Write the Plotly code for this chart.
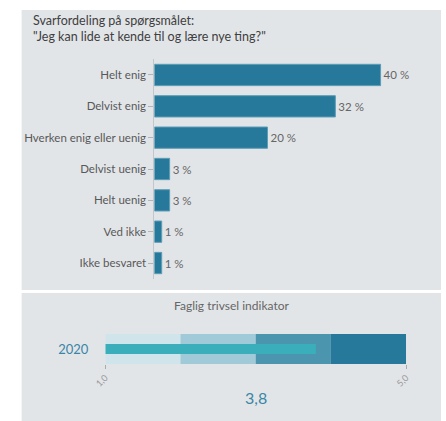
import plotly.graph_objects as go

# ---- data ----
categories = ["Helt enig", "Delvist enig", "Hverken enig eller uenig",
              "Delvist uenig", "Helt uenig", "Ved ikke", "Ikke besvaret"]
shares = [40.0, 32.0, 20.0, 2.7, 2.7, 1.3, 1.3]

band_starts = [1.0, 2.0, 3.0, 4.0]
band_ends = [2.0, 3.0, 4.0, 5.0]
band_colors = ["#d0e4eb", "#a1cad8", "#4b96ae", "#26799a"]
year_label = "2020"
indicator_value = 3.8
scale_min, scale_max = 1.0, 5.0

W, H = 446, 421
fx = lambda x: x / W
fy = lambda y: 1 - y / H

FONT = "Lato"
PANEL = "#e2e5e8"

fig = go.Figure()

fig.add_trace(go.Bar(
    y=categories, x=shares, orientation="h",
    marker=dict(color="#27799b", line=dict(color="#5e9db6", width=1)),
    text=[f"{v:.0f} %" for v in shares], textposition="outside",
    textfont=dict(family=FONT, size=11.5, color="#666666"),
    cliponaxis=False, xaxis="x", yaxis="y", showlegend=False,
))

for s, e, c in zip(band_starts, band_ends, band_colors):
    fig.add_trace(go.Bar(
        y=[year_label], x=[e - s], base=[s], orientation="h", width=1.0,
        marker=dict(color=c, line=dict(width=0)),
        xaxis="x2", yaxis="y2", showlegend=False,
    ))
fig.add_trace(go.Bar(
    y=[year_label], x=[indicator_value - scale_min], base=[scale_min],
    orientation="h", width=0.33,
    marker=dict(color="#3aafbb", line=dict(width=0)),
    xaxis="x2", yaxis="y2", showlegend=False,
))

fig.update_layout(
    width=W, height=H, autosize=False, margin=dict(l=0, r=0, t=0, b=0),
    paper_bgcolor="white", plot_bgcolor="rgba(0,0,0,0)",
    barmode="overlay", bargap=0.32,
    font=dict(family=FONT, color="#555555"),
    xaxis=dict(domain=[fx(148), fx(442)], range=[0, 50], visible=False,
               anchor="y"),
    yaxis=dict(domain=[fy(278.7), fy(59.3)], autorange="reversed",
               showline=True, linecolor="#c3c7cb", linewidth=1,
               ticks="outside", ticklen=5, tickcolor="#b0b4b8",
               tickfont=dict(family=FONT, size=11.5, color="#585858"),
               showgrid=False, anchor="x"),
    xaxis2=dict(domain=[fx(97), fx(409.7)], range=[scale_min, scale_max],
                tickvals=[scale_min, scale_max],
                ticktext=[f"{scale_min:.1f}".replace(".", ","),
                          f"{scale_max:.1f}".replace(".", ",")],
                tickangle=-45, ticks="outside", ticklen=4, tickcolor="#aaaaaa",
                tickfont=dict(family=FONT, size=9, color="#999999"),
                showgrid=False, zeroline=False, showline=False, anchor="y2"),
    yaxis2=dict(domain=[fy(364), fy(334)], showgrid=False, showline=False,
                ticks="", ticklabelstandoff=16,
                tickfont=dict(family=FONT, size=13, color="#3a84a6"),
                anchor="x2"),
    shapes=[
        dict(type="rect", xref="paper", yref="paper", x0=fx(10), x1=1,
             y0=fy(290), y1=fy(10), fillcolor=PANEL, line=dict(width=0),
             layer="below"),
        dict(type="rect", xref="paper", yref="paper", x0=fx(10), x1=1,
             y0=0, y1=fy(293), fillcolor=PANEL, line=dict(width=0),
             layer="below"),
    ],
    annotations=[
        dict(text="Svarfordeling på spørgsmålet:<br>\"Jeg kan lide at kende til og lære nye ting?\"",
             xref="paper", yref="paper", x=fx(20), y=fy(11), xanchor="left",
             yanchor="top", align="left", showarrow=False,
             font=dict(family=FONT, size=12.5, color="#404040")),
        dict(text="Faglig trivsel indikator", xref="paper", yref="paper",
             x=fx(228), y=fy(305), xanchor="center", yanchor="middle",
             showarrow=False, font=dict(family=FONT, size=12, color="#666666")),
        dict(text=f"{indicator_value:.1f}".replace(".", ","), xref="paper",
             yref="paper", x=fx(253.4), y=fy(397), xanchor="center",
             yanchor="middle", showarrow=False,
             font=dict(family=FONT, size=16, color="#3a86a6")),
    ],
)

fig.write_html("out.html",
               config={"displayModeBar": False, "responsive": False},
               post_script="document.body.style.margin='0';")
